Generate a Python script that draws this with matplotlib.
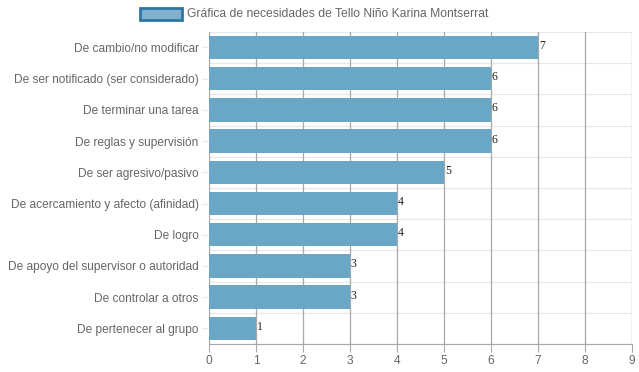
import matplotlib.pyplot as plt
from matplotlib.patches import Rectangle

categorias = [
    "De cambio/no modificar",
    "De ser notificado (ser considerado)",
    "De terminar una tarea",
    "De reglas y supervisión",
    "De ser agresivo/pasivo",
    "De acercamiento y afecto (afinidad)",
    "De logro",
    "De apoyo del supervisor o autoridad",
    "De controlar a otros",
    "De pertenecer al grupo",
]
valores = [7, 6, 6, 6, 5, 4, 4, 3, 3, 1]
titulo = "Gráfica de necesidades de Tello Niño Karina Montserrat"

plt.rcParams['font.family'] = ['Liberation Sans', 'DejaVu Sans']

fig = plt.figure(figsize=(6.39, 3.72), dpi=100)
ax = fig.add_axes([0.327, 0.0753, 0.662, 0.839])

pos = list(range(len(categorias)))
ax.barh(pos, valores, height=0.75, color='#6aa6c6', zorder=2)
ax.set_ylim(len(categorias) - 0.5, -0.5)
ax.set_xlim(0, 9)
ax.set_xticks(range(10))
ax.set_yticks(pos)
ax.set_yticklabels(categorias)

for i, v in enumerate(valores):
    ax.text(v + 0.02, i - 0.05, str(v), fontsize=8.5, family='Liberation Serif',
            color='#222222', ha='left', va='center', zorder=3)

# grid
for x in range(10):
    ax.axvline(x, color='#a8a8a8', lw=0.9, zorder=1)
for y in range(len(categorias) + 1):
    ax.axhline(y - 0.5, color='#e8e8e8', lw=0.9, zorder=0)

for s in ['top', 'right', 'left']:
    ax.spines[s].set_visible(False)
ax.spines['bottom'].set_color('#a8a8a8')
ax.tick_params(axis='both', colors='#a8a8a8', labelcolor='#666666', labelsize=8.6)
ax.tick_params(axis='y', length=5, color='#e8e8e8', pad=2.5)
ax.tick_params(axis='x', length=6, pad=2)

# legend
fig.patches.append(Rectangle((140 / 639, 1 - 20 / 372), 42 / 639, 12 / 372,
                             transform=fig.transFigure, facecolor='#7fb0cc',
                             edgecolor='#2f76a6', lw=2))
fig.text(187 / 639, 1 - 14 / 372, titulo, fontsize=8.7, color='#666666', va='center')

fig.savefig('out.png', dpi=100)
